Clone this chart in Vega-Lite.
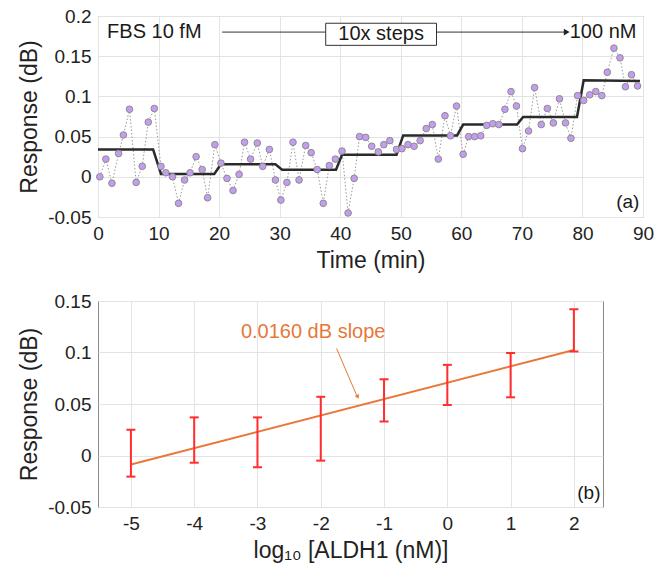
{
  "$schema": "https://vega.github.io/schema/vega-lite/v6.json",
  "background": "white",
  "padding": {"left": 18, "top": 6, "right": 5, "bottom": 5},
  "spacing": 18,
  "config": {
    "font": "Liberation Sans",
    "view": {"stroke": "#8a8a8a", "strokeWidth": 1},
    "axis": {
      "labelFont": "Liberation Sans",
      "titleFont": "Liberation Sans",
      "labelFontSize": 19,
      "titleFontSize": 23,
      "titleFontWeight": "normal",
      "labelColor": "#222",
      "titleColor": "#222",
      "gridColor": "#e3e3e3",
      "gridWidth": 1,
      "domain": false,
      "ticks": false,
      "labelPadding": 7,
      "titlePadding": 6,
      "labelFlush": false,
      "labelOverlap": false
    }
  },
  "vconcat": [
    {
      "width": 545,
      "height": 201,
      "layer": [
        {
          "data": {"name": "pts"},
          "mark": {"type": "line", "color": "#9a9a9a", "strokeWidth": 1, "strokeDash": [1.5, 2]},
          "encoding": {
            "x": {"field": "t", "type": "quantitative", "scale": {"domain": [0, 90], "nice": false},
                  "axis": {"title": "Time (min)", "values": [0,10,20,30,40,50,60,70,80,90]}},
            "y": {"field": "v", "type": "quantitative", "scale": {"domain": [-0.05, 0.2], "nice": false},
                  "axis": {"title": "Response (dB)", "values": [-0.05,0,0.05,0.1,0.15,0.2],
                           "labelExpr": "toString(round(datum.value*1000)/1000)"}}
          }
        },
        {
          "data": {"name": "steps"},
          "mark": {"type": "line", "color": "#2a2a2a", "strokeWidth": 2.5},
          "encoding": {
            "x": {"field": "t", "type": "quantitative"},
            "y": {"field": "v", "type": "quantitative"}
          }
        },
        {
          "data": {"name": "pts"},
          "mark": {"type": "point", "filled": true, "fill": "#c49cf2", "stroke": "#8c8c8c", "strokeWidth": 1, "size": 44, "opacity": 1},
          "encoding": {
            "x": {"field": "t", "type": "quantitative"},
            "y": {"field": "v", "type": "quantitative"}
          }
        },
        {
          "data": {"values": [{"a": 20.5, "b": 37.6, "v": 0.18}, {"a": 55.9, "b": 77.0, "v": 0.18}]},
          "mark": {"type": "rule", "color": "#333", "strokeWidth": 1},
          "encoding": {
            "x": {"field": "a", "type": "quantitative"},
            "x2": {"field": "b"},
            "y": {"field": "v", "type": "quantitative"}
          }
        },
        {
          "data": {"values": [{"t": 77.4, "v": 0.18}]},
          "mark": {"type": "point", "shape": "triangle-right", "filled": true, "color": "#222", "size": 45, "opacity": 1},
          "encoding": {
            "x": {"field": "t", "type": "quantitative"},
            "y": {"field": "v", "type": "quantitative"}
          }
        },
        {
          "data": {"values": [{"a": 37.6, "b": 55.9, "lo": 0.1635, "hi": 0.191}]},
          "mark": {"type": "rect", "fill": "white", "stroke": "#333", "strokeWidth": 1},
          "encoding": {
            "x": {"field": "a", "type": "quantitative"},
            "x2": {"field": "b"},
            "y": {"field": "lo", "type": "quantitative"},
            "y2": {"field": "hi"}
          }
        },
        {
          "data": {"values": [
            {"t": 1.5, "v": 0.18, "label": "FBS 10 fM", "al": "left"},
            {"t": 46.75, "v": 0.1775, "label": "10x steps", "al": "center"},
            {"t": 77.9, "v": 0.18, "label": "100 nM", "al": "left"}
          ]},
          "mark": {"type": "text", "fontSize": 20, "color": "#1a1a1a", "baseline": "middle", "align": {"expr": "datum.al"}},
          "encoding": {
            "x": {"field": "t", "type": "quantitative"},
            "y": {"field": "v", "type": "quantitative"},
            "text": {"field": "label"}
          }
        },
        {
          "data": {"values": [{"t": 89.4, "v": -0.031, "label": "(a)"}]},
          "mark": {"type": "text", "fontSize": 19, "color": "#1a1a1a", "baseline": "middle", "align": "right"},
          "encoding": {
            "x": {"field": "t", "type": "quantitative"},
            "y": {"field": "v", "type": "quantitative"},
            "text": {"field": "label"}
          }
        }
      ]
    },
    {
      "width": 505,
      "height": 206,
      "layer": [
        {
          "data": {"name": "fit"},
          "mark": {"type": "line", "color": "#e8773a", "strokeWidth": 2},
          "encoding": {
            "x": {"field": "x", "type": "quantitative", "scale": {"domain": [-5.52, 2.46], "nice": false},
                  "axis": {"title": "log₁₀ [ALDH1 (nM)]", "values": [-5,-4,-3,-2,-1,0,1,2],
                           "labelExpr": "toString(datum.value)"}},
            "y": {"field": "y", "type": "quantitative", "scale": {"domain": [-0.05, 0.15], "nice": false},
                  "axis": {"title": "Response (dB)", "values": [-0.05,0,0.05,0.1,0.15],
                           "labelExpr": "toString(round(datum.value*1000)/1000)"}}
          }
        },
        {
          "data": {"name": "err"},
          "mark": {"type": "rule", "color": "#ff2d2d", "strokeWidth": 2},
          "encoding": {
            "x": {"field": "x", "type": "quantitative"},
            "y": {"field": "lo", "type": "quantitative"},
            "y2": {"field": "hi"}
          }
        },
        {
          "data": {"name": "err"},
          "mark": {"type": "tick", "orient": "horizontal", "color": "#ff2d2d", "size": 9, "thickness": 2, "opacity": 1},
          "encoding": {
            "x": {"field": "x", "type": "quantitative"},
            "y": {"field": "lo", "type": "quantitative"}
          }
        },
        {
          "data": {"name": "err"},
          "mark": {"type": "tick", "orient": "horizontal", "color": "#ff2d2d", "size": 9, "thickness": 2, "opacity": 1},
          "encoding": {
            "x": {"field": "x", "type": "quantitative"},
            "y": {"field": "hi", "type": "quantitative"}
          }
        },
        {
          "data": {"values": [{"a": -1.75, "b": -1.43, "ya": 0.104, "yb": 0.058}]},
          "mark": {"type": "rule", "color": "#e8773a", "strokeWidth": 1},
          "encoding": {
            "x": {"field": "a", "type": "quantitative"},
            "x2": {"field": "b"},
            "y": {"field": "ya", "type": "quantitative"},
            "y2": {"field": "yb"}
          }
        },
        {
          "data": {"values": [{"x": -1.42, "y": 0.0575}]},
          "mark": {"type": "point", "shape": "triangle", "angle": 157, "filled": true, "color": "#e8773a", "size": 22, "opacity": 1},
          "encoding": {
            "x": {"field": "x", "type": "quantitative"},
            "y": {"field": "y", "type": "quantitative"}
          }
        },
        {
          "data": {"values": [{"x": -2.12, "y": 0.1195, "label": "0.0160 dB slope"}]},
          "mark": {"type": "text", "fontSize": 20, "color": "#e8773a", "baseline": "middle", "align": "center"},
          "encoding": {
            "x": {"field": "x", "type": "quantitative"},
            "y": {"field": "y", "type": "quantitative"},
            "text": {"field": "label"}
          }
        },
        {
          "data": {"values": [{"x": 2.42, "y": -0.036, "label": "(b)"}]},
          "mark": {"type": "text", "fontSize": 19, "color": "#1a1a1a", "baseline": "middle", "align": "right"},
          "encoding": {
            "x": {"field": "x", "type": "quantitative"},
            "y": {"field": "y", "type": "quantitative"},
            "text": {"field": "label"}
          }
        }
      ]
    }
  ],
  "datasets": {
    "pts": [
      {"t": 0.3, "v": 0.0}, {"t": 1.3, "v": 0.022}, {"t": 2.3, "v": -0.008}, {"t": 3.4, "v": 0.029}, {"t": 4.2, "v": 0.052},
      {"t": 5.2, "v": 0.084}, {"t": 6.3, "v": -0.007}, {"t": 7.3, "v": 0.013}, {"t": 8.3, "v": 0.068}, {"t": 9.3, "v": 0.085},
      {"t": 10.4, "v": 0.013}, {"t": 11.2, "v": 0.005}, {"t": 12.3, "v": 0.0}, {"t": 13.3, "v": -0.033}, {"t": 14.3, "v": -0.004},
      {"t": 15.2, "v": 0.005}, {"t": 16.2, "v": 0.025}, {"t": 17.2, "v": 0.009}, {"t": 18.1, "v": -0.026}, {"t": 19.3, "v": 0.040},
      {"t": 20.3, "v": 0.017}, {"t": 21.3, "v": -0.002}, {"t": 22.3, "v": -0.017}, {"t": 23.3, "v": 0.003}, {"t": 24.2, "v": 0.043},
      {"t": 25.2, "v": 0.022}, {"t": 26.3, "v": 0.042}, {"t": 27.2, "v": 0.013}, {"t": 28.3, "v": 0.034}, {"t": 29.3, "v": -0.004},
      {"t": 30.2, "v": -0.029}, {"t": 31.2, "v": -0.007}, {"t": 32.2, "v": 0.043}, {"t": 33.2, "v": -0.004}, {"t": 34.3, "v": 0.039},
      {"t": 35.2, "v": 0.030}, {"t": 36.2, "v": 0.009}, {"t": 37.2, "v": -0.033}, {"t": 38.2, "v": 0.014}, {"t": 39.2, "v": 0.022},
      {"t": 40.3, "v": 0.032}, {"t": 41.3, "v": -0.045}, {"t": 42.3, "v": -0.002}, {"t": 43.2, "v": 0.050}, {"t": 44.2, "v": 0.049},
      {"t": 45.2, "v": 0.038}, {"t": 46.3, "v": 0.031}, {"t": 47.2, "v": 0.040}, {"t": 48.2, "v": 0.045}, {"t": 49.3, "v": 0.034},
      {"t": 50.2, "v": 0.035}, {"t": 51.2, "v": 0.040}, {"t": 52.2, "v": 0.038}, {"t": 53.2, "v": 0.045}, {"t": 54.2, "v": 0.060},
      {"t": 55.2, "v": 0.065}, {"t": 56.2, "v": 0.022}, {"t": 57.3, "v": 0.076}, {"t": 58.2, "v": 0.051}, {"t": 59.2, "v": 0.088},
      {"t": 60.3, "v": 0.028}, {"t": 61.2, "v": 0.050}, {"t": 62.2, "v": 0.050}, {"t": 63.2, "v": 0.051}, {"t": 64.2, "v": 0.064},
      {"t": 65.2, "v": 0.066}, {"t": 66.2, "v": 0.065}, {"t": 67.2, "v": 0.084}, {"t": 68.2, "v": 0.106}, {"t": 69.1, "v": 0.088},
      {"t": 70.1, "v": 0.035}, {"t": 71.1, "v": 0.057}, {"t": 72.1, "v": 0.111}, {"t": 73.2, "v": 0.065}, {"t": 74.2, "v": 0.085},
      {"t": 75.2, "v": 0.067}, {"t": 76.2, "v": 0.097}, {"t": 77.2, "v": 0.067}, {"t": 78.1, "v": 0.048}, {"t": 79.2, "v": 0.101},
      {"t": 80.2, "v": 0.095}, {"t": 81.2, "v": 0.102}, {"t": 82.2, "v": 0.106}, {"t": 83.2, "v": 0.101}, {"t": 84.1, "v": 0.130},
      {"t": 85.2, "v": 0.160}, {"t": 86.2, "v": 0.148}, {"t": 87.1, "v": 0.112}, {"t": 88.1, "v": 0.127}, {"t": 89.1, "v": 0.113}
    ],
    "steps": [
      {"t": 0, "v": 0.034}, {"t": 9.1, "v": 0.034}, {"t": 10.4, "v": 0.0035},
      {"t": 19.2, "v": 0.0035}, {"t": 20.3, "v": 0.0155}, {"t": 29.3, "v": 0.0155},
      {"t": 30.4, "v": 0.0088}, {"t": 39.3, "v": 0.0088}, {"t": 40.3, "v": 0.0275},
      {"t": 49.3, "v": 0.0275}, {"t": 50.4, "v": 0.0515}, {"t": 59.3, "v": 0.0515},
      {"t": 60.3, "v": 0.065}, {"t": 69.2, "v": 0.065}, {"t": 70.2, "v": 0.0745},
      {"t": 79.1, "v": 0.0745}, {"t": 80.2, "v": 0.12}, {"t": 89.5, "v": 0.119}
    ],
    "fit": [
      {"x": -5, "y": -0.0088}, {"x": 2, "y": 0.1025}
    ],
    "err": [
      {"x": -5, "lo": -0.0205, "hi": 0.025},
      {"x": -4, "lo": -0.007, "hi": 0.037},
      {"x": -3, "lo": -0.0114, "hi": 0.037},
      {"x": -2, "lo": -0.005, "hi": 0.057},
      {"x": -1, "lo": 0.033, "hi": 0.074},
      {"x": 0, "lo": 0.049, "hi": 0.088},
      {"x": 1, "lo": 0.0565, "hi": 0.0995},
      {"x": 2, "lo": 0.101, "hi": 0.142}
    ]
  }
}
